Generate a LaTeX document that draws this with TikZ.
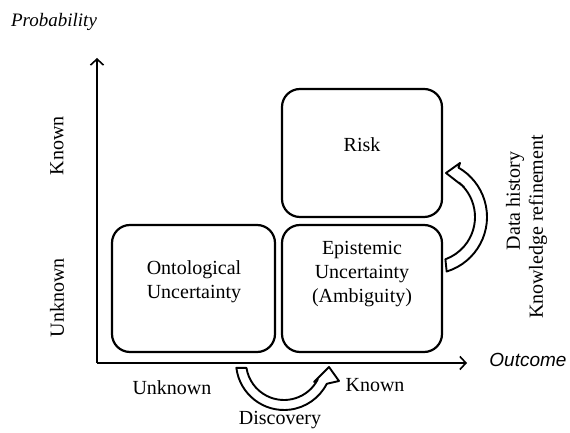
\documentclass[tikz,border=0pt]{standalone}
\usepackage{fontspec}
\setmainfont{Liberation Serif}
\newfontfamily\outfont{Liberation Sans}
\usetikzlibrary{arrows.meta}
\begin{document}
\begin{tikzpicture}[x=1pt,y=1pt,
  box/.style={draw, line width=2.2pt, rounded corners=18pt, inner sep=0pt},
  txt/.style={font=\fontsize{20}{24}\selectfont, align=center, inner sep=0pt},
  axisline/.style={line width=1.5pt, -{Straight Barb[length=6pt,width=13pt,line width=1.6pt]}},
  blockarrow/.style={draw, fill=white, line width=1.9pt, line join=round}
]
\useasboundingbox (0,0) rectangle (570,433);
% axes
\coordinate (O) at (97,70);
\coordinate (ytip) at (97,375);
\coordinate (xtip) at (467,70);
\draw[axisline] (O) -- (ytip);
\draw[axisline] (O) -- (xtip);
% boxes
\node[box, minimum width=160pt, minimum height=128pt] (risk) at (362,280) {};
\node[box, minimum width=160pt, minimum height=127pt] (epi) at (362,144.5) {};
\node[box, minimum width=163pt, minimum height=127pt] (onto) at (193.5,144.5) {};
\node[txt] (risklbl) at (362,288) {Risk};
\node[txt] (epilbl) at (362,159) {Epistemic\\Uncertainty\\(Ambiguity)};
\node[txt] (ontolbl) at (194,151) {Ontological\\Uncertainty};
% axis labels
\node[font=\itshape\fontsize{19}{22}\selectfont, inner sep=0pt] (prob) at (54,411) {Probability};
\node[font=\outfont\itshape\fontsize{19}{22}\selectfont, inner sep=0pt] (outc) at (528,73) {Outcome};
\node[txt, rotate=90] (yknown) at (57,287) {Known};
\node[txt, rotate=90] (yunknown) at (57,135) {Unknown};
\node[txt] (xunknown) at (172,45) {Unknown};
\node[txt] (xknown) at (375,48) {Known};
\node[txt] (disc) at (280,13) {Discovery};
\node[txt, rotate=90] (data) at (515,232) {Data history};
\node[txt, rotate=90] (know) at (538,206) {Knowledge refinement};
% bottom curved block arrow (Discovery)
\coordinate (c1) at (284,71);
\draw[blockarrow] ([shift={(187:48)}]c1) arc[start angle=187, end angle=333, radius=48]
  -- (339,52) -- (329,66) -- (314,51) -- ([shift={(333:38)}]c1)
  arc[start angle=333, end angle=189, radius=38] -- cycle;
% right curved block arrow (Data history)
\coordinate (c2) at (430,216);
\draw[blockarrow] ([shift={(-73:57)}]c2) arc[start angle=-73, end angle=60, radius=57]
  -- (460,270) -- (446,260) -- (464,246) -- ([shift={(50:45)}]c2)
  arc[start angle=50, end angle=-70, radius=45] -- cycle;
\end{tikzpicture}
\end{document}
